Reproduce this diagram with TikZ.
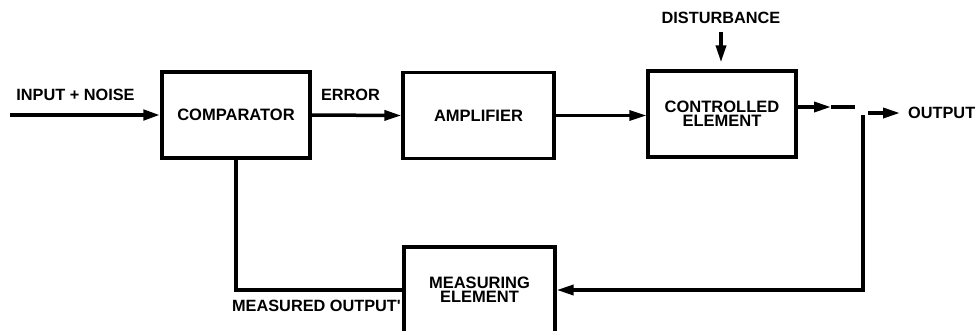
\documentclass[tikz,border=0pt]{standalone}
\usepackage{fontspec}
\setmainfont{Liberation Sans}
\usetikzlibrary{arrows.meta}
\begin{document}
\begin{tikzpicture}[x=1pt,y=-1pt,
    block/.style={draw,line width=3.3pt,minimum width=148pt,minimum height=86pt,inner sep=0pt,align=center,font=\bfseries\fontsize{16.5}{14}\selectfont},
    lbl/.style={inner sep=0pt,font=\bfseries\fontsize{16.3}{12}\selectfont},
    arr/.style={line width=3.5pt,-{Triangle[length=17pt,width=10pt]}},
    ln/.style={line width=3.5pt}]
    \useasboundingbox (0,0) rectangle (978,330);
    % blocks
    \node[block] (comp) at (236,115) {COMPARATOR};
    \node[block,minimum width=151pt] (amp) at (478.5,115.5) {AMPLIFIER};
    \node[block] (ctrl) at (722,114) {CONTROLLED\\ELEMENT};
    \node[block,minimum width=151pt] (meas) at (479.5,290) {MEASURING\\ELEMENT};
    % labels
    \node[lbl] (inp) at (75.5,95) {INPUT + NOISE};
    \node[lbl] (err) at (350.5,95) {ERROR};
    \node[lbl] (dist) at (721,18) {DISTURBANCE};
    \node[lbl,anchor=west] (out) at (908,113) {OUTPUT};
    \node[lbl] (mout) at (316.5,306) {MEASURED OUTPUT\textquotesingle};
    \coordinate (in) at (10,115);
    \coordinate (c1) at (831,107);
    \coordinate (o1) at (855,107);
    \coordinate (fb) at (863,115);
    \coordinate (o2) at (868,113);
    % forward path
    \draw[arr,line width=4.2pt] (in) -- (comp.west);
    \draw[arr] (comp.east) -- (amp.west);
    \draw[arr,line width=3pt] (amp.east) -- (amp.east -| ctrl.west);
    \draw[arr] (dist.south |- 0,32) -- ([yshift=7pt]dist.south |- ctrl.north);
    \draw[arr] (ctrl.east |- o1) -- (c1);
    \draw[ln] (c1) -- (o1);
    \draw[arr] (o2) -- ([xshift=-8pt]out.west);
    % feedback
    \draw[arr] (fb) |- (meas.east);
    \draw[ln] (comp.south) |- (meas.west);
\end{tikzpicture}
\end{document}
